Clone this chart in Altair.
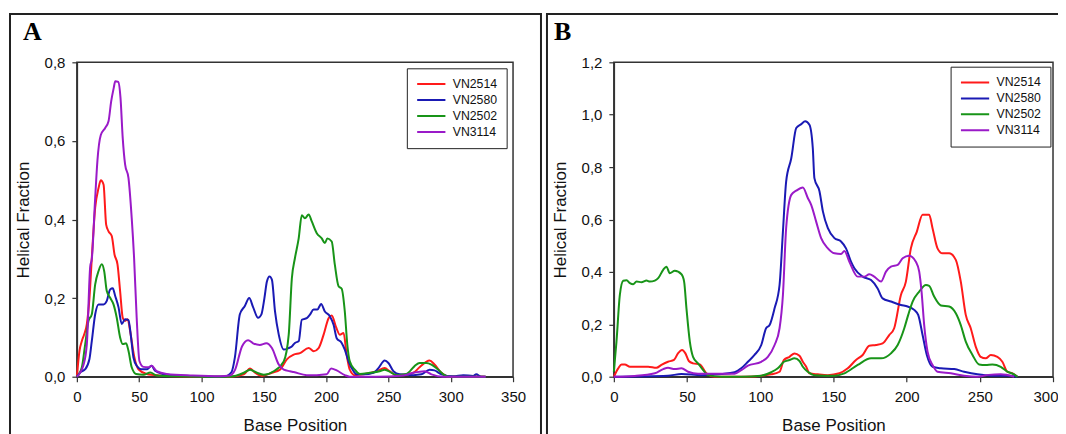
import altair as alt
import pandas as pd

SERIES = ["VN2514", "VN2580", "VN2502", "VN3114"]
COLORS = ["#ff1a1a", "#1a1ab4", "#189418", "#9a1ac8"]
FONT = "Liberation Sans"

# ---------------- Panel A ----------------
A_X_TICKS = [0, 50, 100, 150, 200, 250, 300, 350]
A_Y_TICKS = [0.0, 0.2, 0.4, 0.6, 0.8]

A_VN2514_POS = [0, 2.1, 4, 5.9, 8, 10.1, 12, 14.7, 17.4, 19.2, 21.4, 23.5, 25.4, 28, 30.2, 32.6, 34.7, 36.8, 38.7, 40.8,
                42.7, 45.9, 49.4, 56, 67, 80, 100, 123, 134, 139, 143, 148.5, 156.5, 163, 168.5, 174, 179, 186, 190, 194,
                198, 202, 204.5, 208, 211, 214, 216.5, 219, 223, 230, 240.5, 247, 251, 256.5, 263, 270, 275, 283, 287,
                292.5, 299, 310, 328]
A_VN2514_VAL = [0, 0.066, 0.091, 0.108, 0.134, 0.2, 0.303, 0.43, 0.48, 0.5, 0.489, 0.387, 0.37, 0.358, 0.311, 0.286, 0.218,
                0.15, 0.142, 0.146, 0.117, 0.053, 0.019, 0.007, 0.003, 0.001, 0, 0, 0.006, 0.021, 0.01, 0.002, 0.01, 0.018,
                0.044, 0.056, 0.06, 0.073, 0.065, 0.073, 0.107, 0.149, 0.156, 0.126, 0.107, 0.111, 0.056, 0.018, 0.004,
                0.006, 0.014, 0.022, 0.014, 0.004, 0.005, 0.01, 0.024, 0.041, 0.031, 0.01, 0, 0.001, 0]

A_VN2580_POS = [0, 2.7, 6.7, 10.1, 12, 14.7, 17.4, 21.4, 24, 26.7, 28.8, 30.7, 33.4, 36, 38.7, 41.4, 43.2, 45.4, 48, 52,
                56.5, 60, 62.7, 69.4, 80, 100, 118, 124, 126.8, 130.8, 134.8, 138.3, 141.4, 145.4, 148, 150.5, 152.5,
                154.6, 156.5, 159, 162, 166, 170, 172.5, 175, 178, 180.5, 184.5, 187, 190, 193, 196, 199, 203, 206, 208.5,
                212.5, 215, 218, 222, 224.5, 230, 238, 242, 247, 250, 254, 259, 270, 276.5, 283, 287, 292.5, 302, 310, 318,
                320.5, 324.5, 328]
A_VN2580_VAL = [0, 0.011, 0.019, 0.045, 0.091, 0.159, 0.184, 0.184, 0.193, 0.222, 0.225, 0.206, 0.177, 0.134, 0.146, 0.144,
                0.108, 0.049, 0.028, 0.019, 0.019, 0.028, 0.015, 0.007, 0.003, 0.001, 0, 0.011, 0.049, 0.159, 0.18, 0.2,
                0.177, 0.15, 0.158, 0.2, 0.242, 0.255, 0.247, 0.166, 0.107, 0.069, 0.073, 0.077, 0.086, 0.09, 0.145, 0.149,
                0.158, 0.171, 0.171, 0.185, 0.166, 0.154, 0.132, 0.098, 0.086, 0.069, 0.039, 0.014, 0.006, 0.006, 0.01,
                0.022, 0.041, 0.035, 0.014, 0.006, 0.004, 0.006, 0.018, 0.016, 0.006, 0.001, 0.004, 0.002, 0.006, 0, 0]

A_VN2502_POS = [0, 4, 6.7, 9.3, 12, 14.7, 17.4, 20, 21.9, 24, 26.7, 29.4, 32, 34.7, 36.8, 39.5, 41.4, 44, 47.5, 53.4, 59,
                64, 80, 100, 123, 134, 139, 144.5, 150, 158, 166, 170, 172.5, 175, 178, 180.5, 183, 186, 188.5, 192.5,
                196.5, 199, 201, 204.5, 207, 210, 212.5, 215, 217, 219, 223, 227, 235, 243, 247, 252.5, 256.5, 264.5, 271,
                275, 280.5, 284.5, 290, 294, 299, 328]
A_VN2502_VAL = [0, 0.024, 0.083, 0.142, 0.159, 0.235, 0.269, 0.286, 0.269, 0.218, 0.201, 0.184, 0.15, 0.1, 0.083, 0.085,
                0.066, 0.024, 0.007, 0.005, 0.011, 0.003, 0.001, 0, 0, 0.01, 0.018, 0.01, 0.005, 0.014, 0.039, 0.107, 0.25,
                0.302, 0.352, 0.411, 0.403, 0.413, 0.395, 0.365, 0.352, 0.34, 0.352, 0.344, 0.285, 0.23, 0.224, 0.166,
                0.082, 0.039, 0.018, 0.007, 0.01, 0.014, 0.018, 0.01, 0.004, 0.007, 0.027, 0.035, 0.035, 0.031, 0.018,
                0.006, 0, 0]

A_VN3114_POS = [0, 5.3, 8, 10.7, 12, 14.7, 16.5, 19.2, 22.7, 25.4, 27.5, 29.6, 30.8, 33.2, 35, 36.8, 38.7, 41.4, 44, 45.9,
                48, 50.2, 53.4, 57.4, 60, 64, 72, 93, 115, 122.8, 127, 132.5, 137.4, 141.4, 146.8, 152, 156.5, 162, 166,
                171, 174, 184.5, 192.5, 200.5, 204, 208.5, 215, 219, 240, 262, 270, 279, 284.5, 293.6, 328]
A_VN3114_VAL = [0, 0.03, 0.083, 0.28, 0.3, 0.455, 0.55, 0.615, 0.633, 0.65, 0.7, 0.735, 0.752, 0.75, 0.71, 0.607, 0.54,
                0.506, 0.404, 0.303, 0.15, 0.04, 0.025, 0.024, 0.028, 0.014, 0.007, 0.003, 0.001, 0.003, 0.018, 0.077,
                0.093, 0.085, 0.081, 0.085, 0.073, 0.031, 0.018, 0.014, 0.012, 0.004, 0.004, 0.006, 0.021, 0.016, 0.004,
                0, 0, 0.003, 0.01, 0.014, 0.006, 0, 0]

# ---------------- Panel B ----------------
B_X_TICKS = [0, 50, 100, 150, 200, 250, 300]
B_Y_TICKS = [0.0, 0.2, 0.4, 0.6, 0.8, 1.0, 1.2]

B_VN2514_POS = [0, 3, 5.3, 7.5, 11, 16.6, 23.4, 29.1, 32.5, 37, 41.1, 43.8, 46.6, 48.9, 51.2, 54.1, 58.7, 63.2, 68.9, 90,
                107.5, 113.2, 116.2, 120, 123.4, 126.8, 129.1, 131.4, 133.6, 139.3, 146.2, 154.1, 159.8, 165.4, 170,
                174.5, 179.1, 183.6, 188.1, 191.5, 196.1, 199.5, 202.9, 207, 210.9, 215.4, 217.7, 221.1, 224.5, 229.1,
                233.6, 237, 240.4, 243.8, 247.2, 250.6, 254, 257.5, 262, 265.4, 268.8, 272.3, 275.7]
B_VN2514_VAL = [0, 0.032, 0.047, 0.047, 0.038, 0.038, 0.038, 0.034, 0.045, 0.057, 0.064, 0.089, 0.102, 0.089, 0.06, 0.051,
                0.047, 0.013, 0, 0, 0.009, 0.019, 0.064, 0.076, 0.089, 0.08, 0.057, 0.038, 0.013, 0.009, 0.006, 0.013,
                0.032, 0.064, 0.083, 0.118, 0.121, 0.127, 0.159, 0.185, 0.312, 0.363, 0.49, 0.554, 0.618, 0.618, 0.567,
                0.49, 0.471, 0.471, 0.446, 0.363, 0.236, 0.185, 0.115, 0.076, 0.07, 0.083, 0.076, 0.057, 0.019, 0.013, 0]

B_VN2580_POS = [0, 37, 46.2, 59.8, 73.4, 82.5, 87, 91.6, 96.1, 100.7, 104, 106.4, 109.8, 113.2, 115.5, 117.7, 121.2, 124.6,
                128, 130.7, 133.6, 135.9, 137, 140.5, 142.8, 146.2, 150.7, 155.2, 158.6, 162, 164.3, 170, 175.7, 180.2,
                183.6, 189.3, 196.1, 200.7, 205.2, 207.9, 210.9, 213.8, 217.7, 223.4, 232.5, 239.3, 248.4, 257.5, 268.8,
                275.7]
B_VN2580_VAL = [0, 0.004, 0.01, 0.006, 0.01, 0.017, 0.032, 0.057, 0.083, 0.121, 0.185, 0.197, 0.261, 0.35, 0.554, 0.745,
                0.834, 0.949, 0.964, 0.975, 0.962, 0.873, 0.758, 0.707, 0.631, 0.567, 0.529, 0.516, 0.49, 0.439, 0.414,
                0.382, 0.369, 0.337, 0.299, 0.287, 0.274, 0.268, 0.255, 0.236, 0.159, 0.083, 0.038, 0.032, 0.029, 0.019,
                0.009, 0.004, 0.004, 0]

B_VN2502_POS = [0, 1.8, 4.1, 6.4, 8.7, 11, 13.2, 15.5, 18.9, 22.3, 24.6, 28, 30.3, 33.7, 35.9, 38.2, 41.6, 46.2, 48, 49.6,
                51.9, 54.1, 57.5, 61, 64.3, 73.4, 87, 100.7, 107.5, 112, 116.2, 120, 123.4, 126.8, 129.1, 132.5, 137, 150.7,
                157.5, 166.6, 175.7, 182.5, 189.3, 193.9, 198.4, 201.1, 204.1, 208.6, 213.2, 215.4, 218.8, 223.4, 229.1,
                233.6, 237, 240.4, 245, 249.5, 254, 258.6, 264.3, 268.8, 273.4, 275.7]
B_VN2502_VAL = [0.019, 0.134, 0.312, 0.366, 0.368, 0.357, 0.353, 0.363, 0.361, 0.367, 0.363, 0.367, 0.376, 0.408, 0.42,
                0.395, 0.404, 0.391, 0.363, 0.261, 0.134, 0.076, 0.051, 0.025, 0.006, 0, 0, 0.004, 0.017, 0.032, 0.057,
                0.064, 0.07, 0.06, 0.038, 0.019, 0.006, 0.004, 0.013, 0.045, 0.07, 0.07, 0.089, 0.121, 0.185, 0.236, 0.287,
                0.325, 0.35, 0.347, 0.306, 0.272, 0.268, 0.242, 0.197, 0.134, 0.083, 0.047, 0.045, 0.047, 0.038, 0.019,
                0.009, 0]

B_VN3114_POS = [0, 14.3, 28, 33.7, 37, 41.6, 46.2, 50.7, 57.5, 82.5, 87, 91.6, 100.7, 105.2, 109.8, 113.2, 115.5, 117.7,
                121.2, 124.6, 129.1, 132.5, 134.8, 138.2, 141.6, 146.2, 150.7, 155.2, 157.5, 160.9, 166.6, 171.1, 174.5,
                177.9, 182.5, 185.9, 189.3, 193.9, 197.3, 201.8, 206.3, 208.6, 210.2, 212, 214.3, 217.7, 221.1, 230.2,
                239.3, 248.4, 256, 264.3, 273.4]
B_VN3114_VAL = [0, 0.003, 0.013, 0.029, 0.034, 0.029, 0.032, 0.019, 0.011, 0.011, 0.025, 0.042, 0.057, 0.076, 0.121, 0.185,
                0.312, 0.567, 0.694, 0.71, 0.722, 0.682, 0.656, 0.592, 0.529, 0.49, 0.471, 0.468, 0.48, 0.439, 0.382,
                0.382, 0.391, 0.382, 0.363, 0.401, 0.42, 0.427, 0.452, 0.462, 0.439, 0.401, 0.325, 0.197, 0.096, 0.045,
                0.019, 0.013, 0.004, 0, 0.007, 0.009, 0]


def build(pairs):
    parts = []
    for name, p, v in pairs:
        parts.append(pd.DataFrame({"pos": p, "val": v, "series": name, "k": list(range(len(p)))}))
    return pd.concat(parts, ignore_index=True)


df_a = build([("VN2514", A_VN2514_POS, A_VN2514_VAL), ("VN2580", A_VN2580_POS, A_VN2580_VAL),
              ("VN2502", A_VN2502_POS, A_VN2502_VAL), ("VN3114", A_VN3114_POS, A_VN3114_VAL)])
df_b = build([("VN2514", B_VN2514_POS, B_VN2514_VAL), ("VN2580", B_VN2580_POS, B_VN2580_VAL),
              ("VN2502", B_VN2502_POS, B_VN2502_VAL), ("VN3114", B_VN3114_POS, B_VN3114_VAL)])

LABEL_EXPR = "replace(format(datum.value, '.1f'), '.', ',')"


def panel(df, xmax, xticks, ymax, yticks, width, letter, dx, leg_x, leg_y, box):
    legend = alt.Legend(title=None, orient="none", legendX=leg_x, legendY=leg_y, symbolType="stroke",
                        symbolSize=800, symbolStrokeWidth=2, clipHeight=13.5, rowPadding=2,
                        labelFont=FONT, labelFontSize=12.3, labelColor="#111", labelOffset=6,
                        strokeColor="#222", fillColor="white", padding=9)
    edge_test = "datum.value == %d" % xmax
    x_axis = alt.Axis(values=xticks, format="d", labelFlush=False, labelOverlap=False,
                      labelAlign={"condition": {"test": edge_test, "value": "right"}, "value": "center"},
                      labelOffset={"condition": {"test": edge_test, "value": 5}, "value": 0}) if xmax == 300 else \
        alt.Axis(values=xticks, format="d", labelFlush=False, labelOverlap=False)
    lines = alt.Chart(df).mark_line(strokeWidth=2, interpolate="monotone").encode(
        x=alt.X("pos:Q", title="Base Position",
                scale=alt.Scale(domain=[0, xmax], nice=False, zero=True), axis=x_axis),
        y=alt.Y("val:Q", title="Helical Fraction",
                scale=alt.Scale(domain=[0, ymax], nice=False),
                axis=alt.Axis(values=yticks, labelExpr=LABEL_EXPR, labelFlush=False, labelOverlap=False)),
        color=alt.Color("series:N", sort=SERIES, scale=alt.Scale(domain=SERIES, range=COLORS), legend=legend),
        order=alt.Order("k:Q"),
    )
    border = alt.Chart(pd.DataFrame({"b": [0]})).mark_rect(fillOpacity=0, stroke="#222", strokeWidth=2).encode(
        x=alt.value(box[0]), x2=alt.value(box[1]), y=alt.value(box[2]), y2=alt.value(box[3]))
    return alt.layer(border, lines).properties(
        width=width, height=315,
        title=alt.Title(letter, anchor="start", frame="group", font="Liberation Serif", fontSize=26,
                        fontWeight="bold", color="#000", offset=0, dx=dx, dy=53.5, baseline="alphabetic"))


panel_a = panel(df_a, 350, A_X_TICKS, 0.8, A_Y_TICKS, 437, "A", -54, 330.6, 6, [-67, 465, -48.5, 378])
panel_b = panel(df_b, 300, B_X_TICKS, 1.2, B_Y_TICKS, 440, "B", -60, 337.4, 4.4, [-67, 458, -48.5, 378])

chart = alt.hconcat(panel_a, panel_b, spacing=2).resolve_scale(color="independent").resolve_legend(
    color="independent").configure(
    padding={"left": 0, "top": 3, "right": -15, "bottom": 0}, background="white"
).configure_view(stroke="#333", strokeWidth=1.5).configure_axis(
    domainColor="#333", domainWidth=1.5, tickColor="#333", tickWidth=1.2, tickSize=5, grid=False,
    labelFont=FONT, labelFontSize=15, labelColor="#111", titleFont=FONT, titleFontSize=17,
    titleFontWeight="normal", titleColor="#111"
).configure_axisX(labelPadding=8, titlePadding=13).configure_axisY(labelPadding=7, titlePadding=12)

chart.save("out.html", embed_options={"renderer": "svg", "actions": False})
